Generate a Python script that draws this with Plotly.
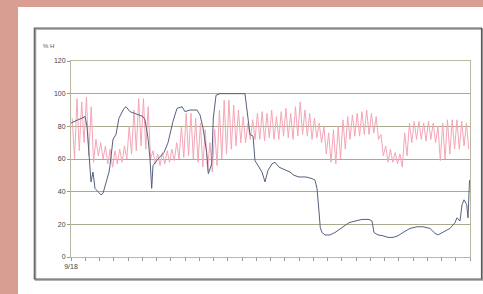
import plotly.graph_objects as go

# ---- data ----
# dark series: (day, %H)
dark_days = [0, 0.63, 1.47, 2.32, 2.95, 3.37, 3.79, 4.21, 4.63, 5.05, 5.68, 6.32, 6.74, 7.37, 8.0, 8.21,
             8.84, 9.47, 10.1, 11.16, 11.58, 12.42, 13.47, 14.53, 15.16, 15.58, 16.21, 16.63, 16.99, 17.26,
             18.32, 19.58, 20.42, 21.47, 22.32, 23.37, 24.0, 25.05, 26.53, 27.16, 27.79, 28.57, 28.91,
             29.62, 29.96, 30.53, 31.37, 33.47, 36.63, 37.26, 37.68, 38.32, 38.74, 39.37, 40.21, 40.84,
             41.47, 42.32, 42.95, 43.79, 44.63, 45.47, 46.11, 46.95, 48.0, 49.47, 50.74, 51.37, 51.79,
             52.15, 52.48, 52.84, 53.47, 54.53, 55.58, 57.05, 58.53, 59.79, 61.26, 62.74, 63.37, 63.79,
             64.63, 65.68, 66.74, 67.79, 68.84, 69.89, 71.37, 72.84, 74.11, 75.58, 76.63, 77.26, 78.32,
             79.79, 80.84, 81.26, 81.89, 82.32, 82.74, 83.31, 83.58, 83.9]
dark_vals = [82, 83, 84, 85, 86, 80, 62, 46, 52, 42, 40, 38, 39, 45, 52, 56,
             72, 75, 85, 91, 92, 89, 88, 87, 86, 84, 73, 60, 42, 56,
             60, 64, 70, 83, 91, 92, 89, 90, 90, 87, 79, 64, 51,
             57, 85, 99, 100, 100, 100, 85, 75, 74, 59, 56, 52, 46,
             53, 57, 58, 55, 54, 53, 52, 50, 49, 49, 48, 47, 42,
             30, 18, 15, 13.5, 13.5, 15, 18, 21, 22, 23, 23, 22, 15,
             13.5, 13, 12, 12, 13, 15, 17.5, 18.5, 18.5, 17.5, 14.5, 13.5, 15,
             17.5, 21, 24, 22, 32, 35, 32, 24, 47]

# pink series: daily high / low
pink_high = [85, 97, 95, 98, 92, 72, 70, 68, 66, 65, 66, 68, 80, 90, 97, 97, 92,
             65, 63, 64, 65, 66, 70, 80, 88, 88, 85, 82, 78, 70, 78,
             90, 96, 96, 93, 90, 86, 82, 84, 88, 89, 88, 90, 86, 89, 91, 88, 92, 95,
             90, 88, 85, 82, 80, 76, 78, 80, 84, 86, 87, 88, 89, 90, 88, 86,
             75, 68, 66, 64, 63, 76, 82, 83, 83, 82, 83, 82, 80, 82, 84, 84, 84, 83, 82]
pink_low = [60, 65, 70, 62, 58, 62, 60, 57, 55, 57, 58, 60, 63, 65, 68, 66, 60,
            57, 56, 57, 58, 59, 60, 61, 62, 60, 58, 55, 53, 52, 56,
            60, 63, 66, 68, 70, 70, 72, 72, 72, 71, 73, 72, 72, 74, 73, 72, 74, 75,
            74, 72, 73, 70, 63, 58, 57, 60, 66, 72, 74, 74, 75, 75, 76, 72,
            62, 58, 58, 57, 55, 62, 70, 72, 72, 71, 72, 70, 59, 60, 63, 66, 66, 68, 66]

y_ticks = [0, 20, 40, 60, 80, 100, 120]
x_tick_days = list(range(0, 85, 3))
x_tick_text = ["9/18"] + [""] * (len(x_tick_days) - 1)

# build pink zig-zag
pink_x, pink_y = [], []
for d, (h, l) in enumerate(zip(pink_high, pink_low)):
    pink_x += [d + 0.25, d + 0.75]
    pink_y += [h, l]

fig = go.Figure()
fig.add_trace(go.Scatter(x=pink_x, y=pink_y, mode="lines",
                         line=dict(color="#F4A6B6", width=1), hoverinfo="skip"))
fig.add_trace(go.Scatter(x=dark_days, y=dark_vals, mode="lines",
                         line=dict(color="#56617F", width=1), hoverinfo="skip"))

W, H = 483, 294
L, R, T, B = 71, 13, 61, 37
pw, ph = W - L - R, H - T - B


def px(x):
    return (x - L) / pw


def py(y):
    return (H - B - y) / ph


shapes = [
    dict(type="rect", xref="paper", yref="paper", x0=px(18), x1=px(490), y0=py(300), y1=py(7),
         fillcolor="white", line=dict(width=0), layer="below"),
    # frame shadow
    dict(type="rect", xref="paper", yref="paper", x0=px(35.5), x1=px(482.5), y0=py(280), y1=py(29),
         fillcolor="rgba(0,0,0,0)", line=dict(color="#9a9a9a", width=1.5), layer="below"),
    dict(type="rect", xref="paper", yref="paper", x0=px(34.3), x1=px(481.5), y0=py(279), y1=py(28),
         fillcolor="rgba(0,0,0,0)", line=dict(color="#5a5a5a", width=1.2), layer="below"),
]

fig.update_layout(
    width=W, height=H,
    margin=dict(l=L, r=R, t=T, b=B),
    paper_bgcolor="#D89E92",
    plot_bgcolor="#F6F4C0",
    showlegend=False,
    shapes=shapes,
    font=dict(family="Liberation Sans, Arial, sans-serif", size=7, color="#444444"),
    annotations=[dict(text="% H", xref="paper", yref="paper", x=px(41), y=py(46),
                      xanchor="left", yanchor="middle", showarrow=False,
                      font=dict(size=6, color="#555555"))],
)
fig.update_xaxes(range=[0, 84], tickvals=x_tick_days, ticktext=x_tick_text,
                 ticks="outside", ticklen=3, tickcolor="#9a9a88", showgrid=False,
                 showline=True, linecolor="#B8B8A0", linewidth=1, mirror=True,
                 zeroline=False, tickfont=dict(size=7, color="#444444"))
fig.update_yaxes(range=[0, 120], tickvals=y_ticks, ticks="outside", ticklen=3,
                 tickcolor="#9a9a88", showgrid=True, gridcolor="#ABA990", gridwidth=1,
                 showline=True, linecolor="#B8B8A0", linewidth=1, mirror=True,
                 zeroline=False, tickfont=dict(size=7, color="#444444"))

fig.write_html("out.html", config={"displayModeBar": False},
               post_script="document.body.style.margin='0';document.body.style.overflow='hidden';"
                           "document.body.style.background='#D89E92';")
